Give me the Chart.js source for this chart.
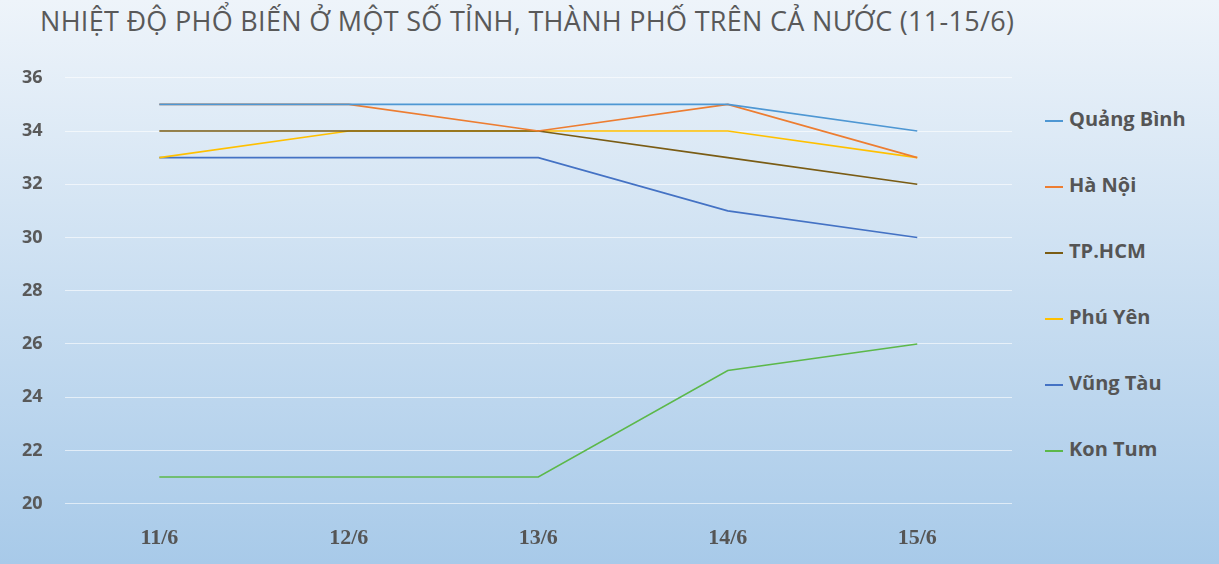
<!DOCTYPE html>
<html>
<head>
<meta charset="utf-8">
<script src="https://cdn.jsdelivr.net/npm/chart.js@4"></script>
<style>
  body { margin: 0; width: 1219px; height: 564px; overflow: hidden;
    background: linear-gradient(#eef4fa, #a8cae9); font-family: "Open Sans", sans-serif; }
  #title { position: absolute; left: 40px; top: 2px; font-size: 27px; color: #595959; letter-spacing: 0.3px; }
  #wrap { position: absolute; left: 0; top: 45px; width: 1012px; height: 521px; }
  #legend { position: absolute; left: 1045px; top: 0; }
  .item { position: absolute; white-space: nowrap; font: bold 20px "Open Sans", sans-serif; color: #555; }
  .item span { display: inline-block; width: 18px; height: 2px; margin-right: 6px; vertical-align: middle; }
</style>
</head>
<body>
<div id="title">NHIỆT ĐỘ PHỔ BIẾN Ở MỘT SỐ TỈNH, THÀNH PHỐ TRÊN CẢ NƯỚC (11-15/6)</div>
<div id="wrap"><canvas id="c"></canvas></div>
<div id="legend"></div>
<script>
const days = ["11/6", "12/6", "13/6", "14/6", "15/6"];
const quangBinh = [35, 35, 35, 35, 34];
const haNoi = [35, 35, 34, 35, 33];
const tpHcm = [34, 34, 34, 33, 32];
const phuYen = [33, 34, 34, 34, 33];
const vungTau = [33, 33, 33, 31, 30];
const konTum = [21, 21, 21, 25, 26];

const series = [
  ["Quảng Bình", quangBinh, "#4e97d3"],
  ["Hà Nội", haNoi, "#ed7d31"],
  ["TP.HCM", tpHcm, "#7a5c14"],
  ["Phú Yên", phuYen, "#ffc000"],
  ["Vũng Tàu", vungTau, "#4472c4"],
  ["Kon Tum", konTum, "#5cb84a"],
];

const legend = document.getElementById("legend");
series.forEach(([name, , color], i) => {
  const d = document.createElement("div");
  d.className = "item";
  d.style.top = (105 + i * 66) + "px";
  d.innerHTML = `<span style="background:${color}"></span>${name}`;
  legend.appendChild(d);
});

new Chart(document.getElementById("c"), {
  type: "line",
  data: {
    labels: days,
    datasets: series.map(([name, data, color]) => ({
      label: name, data, borderColor: color, backgroundColor: color,
      borderWidth: 1.6, pointRadius: 0, tension: 0,
    })),
  },
  options: {
    responsive: true, maintainAspectRatio: false, animation: false,
    layout: { padding: { left: 0, right: 0, top: 8, bottom: 0 } },
    plugins: { legend: { display: false }, tooltip: { enabled: false } },
    scales: {
      x: {
        offset: true,
        grid: { display: false },
        border: { display: false },
        ticks: { color: "#555", font: { family: "Liberation Serif", size: 22, weight: "bold" }, padding: 14 },
      },
      y: {
        min: 20, max: 36,
        ticks: { stepSize: 2, color: "#595959", font: { family: "Open Sans", size: 18, weight: "bold" }, padding: 22 },
        grid: { color: "rgba(255,255,255,0.6)", drawTicks: false },
        border: { display: false },
      },
    },
  },
});
</script>
</body>
</html>
